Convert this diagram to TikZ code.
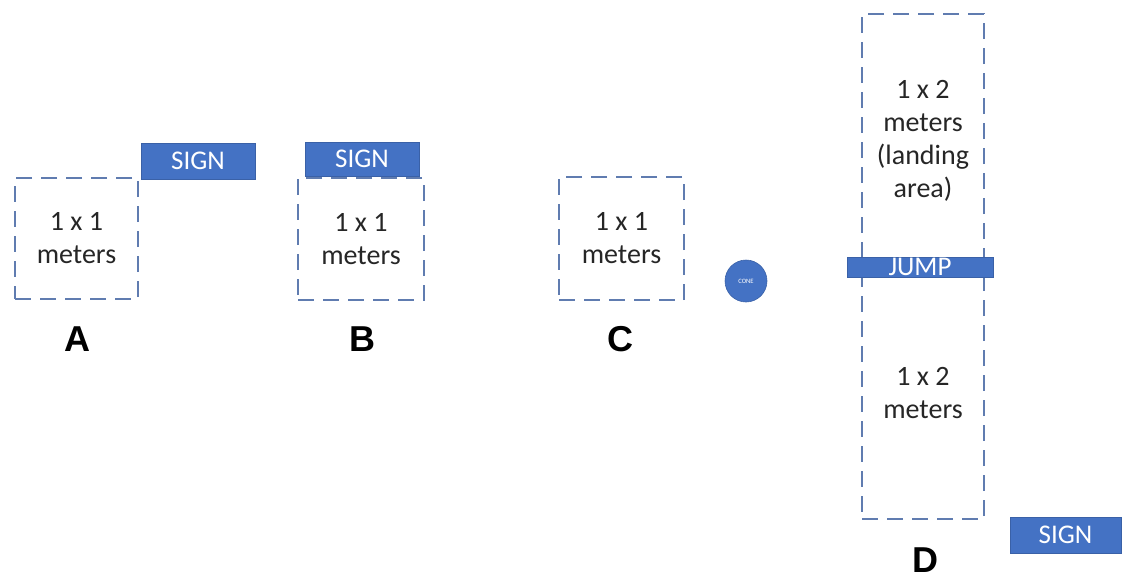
\documentclass[tikz,border=0pt]{standalone}
\usepackage{fontspec}
\setmainfont{Carlito}
\newfontfamily\lblfont{Liberation Sans}
\definecolor{signblue}{RGB}{68,114,196}
\definecolor{dashblue}{RGB}{96,124,176}
\definecolor{txt}{RGB}{38,38,38}
\begin{document}
\begin{tikzpicture}[x=0.5pt,y=-0.5pt,
  area/.style={draw=dashblue, line width=1.1pt, dash pattern=on 8pt off 4.5pt, inner sep=0pt,
    text=txt, font=\fontsize{14}{16.5}\selectfont, align=center},
  signbox/.style={fill=signblue, draw=signblue!85!black, line width=0.3pt, text=white,
    font=\fontsize{13.5}{16}\selectfont, inner sep=0pt},
  letter/.style={font=\lblfont\bfseries\fontsize{18}{20}\selectfont, text=black, inner sep=0pt}]
\useasboundingbox (0,0) rectangle (1122,579);
% A
\node[area, minimum width=61.5pt, minimum height=60.5pt] (boxA) at (76.5,238.5) {1 x 1\\meters};
\node[signbox, minimum width=57pt, minimum height=18pt] (signA) at (198,161) {SIGN};
\node[letter] (labA) at (77,339) {A};
% B
\node[area, minimum width=63pt, minimum height=61pt] (boxB) at (361,239) {1 x 1\\meters};
\node[signbox, minimum width=57pt, minimum height=17pt] (signB) at (362,159) {SIGN};
\node[letter] (labB) at (362,339) {B};
% C
\node[area, minimum width=62.5pt, minimum height=61.5pt] (boxC) at (621.5,238.5) {1 x 1\\meters};
\node[circle, fill=signblue, draw=signblue!85!black, line width=0.3pt, minimum size=21pt, inner sep=0pt,
  text=white, font=\fontsize{3.3}{3.3}\selectfont] (cone) at (746,281) {CONE};
\node[letter] (labC) at (620,339) {C};
% D
\node[area, minimum width=61pt, minimum height=126.5pt] (boxDtop) at (923,140.5) {1 x 2\\meters\\(landing\\area)};
\node[area, minimum width=61pt, minimum height=126pt] (boxDbot) at (923,393) {1 x 2\\meters};
\node[signbox, minimum width=73pt, minimum height=10pt] (jump) at (920,267) {JUMP};
\node[signbox, minimum width=55.5pt, minimum height=18pt] (signD) at (1065.5,535) {SIGN};
\node[letter] (labD) at (925,560) {D};
\end{tikzpicture}
\end{document}
